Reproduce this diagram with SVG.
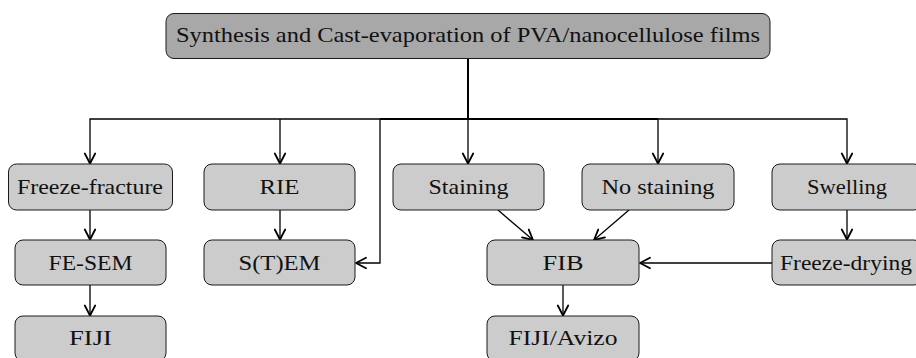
<svg xmlns="http://www.w3.org/2000/svg" width="916" height="358" viewBox="0 0 916 358">
<style>
.box{fill:#cccccc;stroke:#1a1a1a;stroke-width:1}
.top{fill:#a8a8a8;stroke:#1a1a1a;stroke-width:1}
.c{fill:none;stroke:#000;stroke-width:1.3}
.k{fill:none;stroke:#000;stroke-width:2}
</style>
<defs>
<marker id="ar" markerUnits="userSpaceOnUse" markerWidth="16" markerHeight="16" refX="0" refY="0" viewBox="-12 -8 14 16" orient="auto">
<path d="M-10,-5.2 Q-3.5,-1.8 0,0 Q-3.5,1.8 -10,5.2" fill="none" stroke="#000" stroke-width="1.8" stroke-linecap="round" stroke-linejoin="round"/>
</marker>
</defs>
<rect width="916" height="358" fill="#fff"/>
<g id="connectors">
<path class="k" d="M468,58.5 V119 H380"/>
<path class="k" d="M468,119 H658"/>
<path class="c" d="M380,119 H90 V163.5" marker-end="url(#ar)"/>
<path class="c" d="M280,119 V163.5" marker-end="url(#ar)"/>
<path class="c" d="M380,119 V263 H356" marker-end="url(#ar)"/>
<path class="c" d="M468,119 V163.5" marker-end="url(#ar)"/>
<path class="c" d="M658,119 V163.5" marker-end="url(#ar)"/>
<path class="c" d="M658,119 H847 V163.5" marker-end="url(#ar)"/>
<path class="c" d="M90,210 V239.5" marker-end="url(#ar)"/>
<path class="c" d="M90,285 V315.5" marker-end="url(#ar)"/>
<path class="c" d="M280,210 V239.5" marker-end="url(#ar)"/>
<path class="c" d="M498,210 L533,240" marker-end="url(#ar)"/>
<path class="c" d="M629,210 L594,240" marker-end="url(#ar)"/>
<path class="c" d="M847,210 V239.5" marker-end="url(#ar)"/>
<path class="c" d="M772,263 H640" marker-end="url(#ar)"/>
<path class="c" d="M563,285 V315.5" marker-end="url(#ar)"/>
</g>
<g font-family="Liberation Serif, serif" font-size="22" fill="#111" text-anchor="middle">
<g id="n-top"><rect class="top" x="166" y="13.5" width="604" height="45" rx="8"/><text x="468" y="42" textLength="584" lengthAdjust="spacingAndGlyphs">Synthesis and Cast-evaporation of PVA/nanocellulose films</text></g>
<g id="n-freezefracture"><rect class="box" x="8.5" y="164" width="164" height="46" rx="8"/><text x="90" y="193.5" textLength="146" lengthAdjust="spacingAndGlyphs">Freeze-fracture</text></g>
<g id="n-rie"><rect class="box" x="204" y="164" width="151" height="46" rx="8"/><text x="279.5" y="193.5" textLength="40" lengthAdjust="spacingAndGlyphs">RIE</text></g>
<g id="n-staining"><rect class="box" x="393" y="164" width="151" height="46" rx="8"/><text x="468.5" y="193.5" textLength="80" lengthAdjust="spacingAndGlyphs">Staining</text></g>
<g id="n-nostaining"><rect class="box" x="582" y="164" width="152" height="46" rx="8"/><text x="658" y="193.5" textLength="113" lengthAdjust="spacingAndGlyphs">No staining</text></g>
<g id="n-swelling"><rect class="box" x="772" y="164" width="150" height="46" rx="8"/><text x="847" y="193.5" textLength="80" lengthAdjust="spacingAndGlyphs">Swelling</text></g>
<g id="n-fesem"><rect class="box" x="15" y="240" width="151" height="45" rx="8"/><text x="90.5" y="269.5" textLength="84" lengthAdjust="spacingAndGlyphs">FE-SEM</text></g>
<g id="n-stem"><rect class="box" x="204" y="240" width="151" height="45" rx="8"/><text x="279.5" y="269.5" textLength="82" lengthAdjust="spacingAndGlyphs">S(T)EM</text></g>
<g id="n-fib"><rect class="box" x="487" y="240" width="152" height="45" rx="8"/><text x="563" y="269.5" textLength="41" lengthAdjust="spacingAndGlyphs">FIB</text></g>
<g id="n-freezedrying"><rect class="box" x="772" y="240" width="150" height="45" rx="8"/><text x="846" y="269.5" textLength="132" lengthAdjust="spacingAndGlyphs">Freeze-drying</text></g>
<g id="n-fiji"><rect class="box" x="15" y="316" width="151" height="45" rx="8"/><text x="90.5" y="345" textLength="43" lengthAdjust="spacingAndGlyphs">FIJI</text></g>
<g id="n-fijiavizo"><rect class="box" x="487" y="316" width="152" height="45" rx="8"/><text x="563" y="345" textLength="109" lengthAdjust="spacingAndGlyphs">FIJI/Avizo</text></g>
</g>
</svg>
